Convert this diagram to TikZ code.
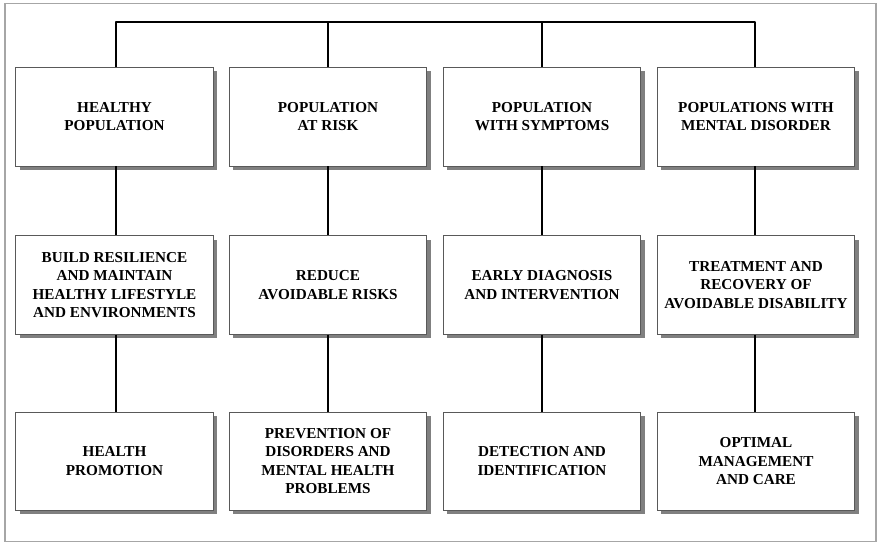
\documentclass[tikz,border=0pt]{standalone}
\usepackage{fontspec}
\setmainfont{Liberation Serif}
\usetikzlibrary{shadows}
\begin{document}
\begin{tikzpicture}[x=1pt,y=-1pt,
  boxnode/.style={draw=black!65, line width=0.9pt, fill=white, minimum width=197.6pt, minimum height=98.3pt,
    align=center, inner sep=0pt,
    font=\fontsize{15.2}{18.4}\selectfont\bfseries,
    drop shadow={shadow xshift=3.8pt, shadow yshift=-3.8pt, fill=black!50, opacity=1}},
  link/.style={line width=2pt, black}]
\useasboundingbox (0,0) rectangle (877,543);
\draw[black!35, line width=1.5pt] (5,3.5) rectangle (876,541.5);
% row 1
\node[boxnode] (a1) at (114.5,116.8) {HEALTHY\\POPULATION};
\node[boxnode] (b1) at (328,116.8) {POPULATION\\AT RISK};
\node[boxnode] (c1) at (542,116.8) {POPULATION\\WITH SYMPTOMS};
\node[boxnode] (d1) at (756,116.8) {POPULATIONS WITH\\MENTAL DISORDER};
% row 2
\node[boxnode] (a2) at (114.5,285) {BUILD RESILIENCE\\AND MAINTAIN\\HEALTHY LIFESTYLE\\AND ENVIRONMENTS};
\node[boxnode] (b2) at (328,285) {REDUCE\\AVOIDABLE RISKS};
\node[boxnode] (c2) at (542,285) {EARLY DIAGNOSIS\\AND INTERVENTION};
\node[boxnode] (d2) at (756,285) {TREATMENT AND\\RECOVERY OF\\AVOIDABLE DISABILITY};
% row 3
\node[boxnode] (a3) at (114.5,461.2) {HEALTH\\PROMOTION};
\node[boxnode] (b3) at (328,461.2) {PREVENTION OF\\DISORDERS AND\\MENTAL HEALTH\\PROBLEMS};
\node[boxnode] (c3) at (542,461.2) {DETECTION AND\\IDENTIFICATION};
\node[boxnode] (d3) at (756,461.2) {OPTIMAL\\MANAGEMENT\\AND CARE};
% bus
\coordinate (ta) at ([xshift=1.5pt]a1.north |- 0,21.7);
\coordinate (tb) at (b1.north |- 0,21.7);
\coordinate (tc) at (c1.north |- 0,21.7);
\coordinate (td) at ([xshift=-0.7pt]d1.north |- 0,21.7);
\draw[link, line join=round] ([xshift=1.5pt]a1.north) -- (ta) -- (td) -- ([xshift=-0.7pt]d1.north);
\draw[link] (tb) -- (b1.north);
\draw[link] (tc) -- (c1.north);
\foreach \c/\s in {a/1.5pt,b/0pt,c/0pt,d/-0.7pt}{
  \draw[link] ([xshift=\s]\c1.south) -- ([xshift=\s]\c2.north);
  \draw[link] ([xshift=\s]\c2.south) -- ([xshift=\s]\c3.north);
}
\end{tikzpicture}
\end{document}
